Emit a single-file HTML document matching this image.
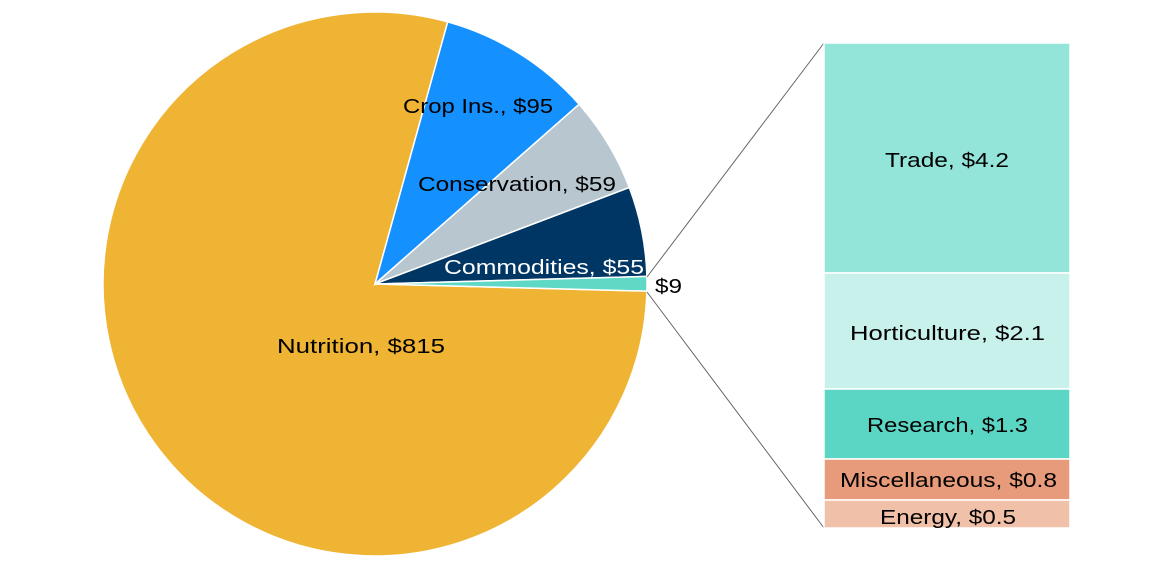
<!DOCTYPE html>
<html><head><meta charset="utf-8"><style>
html,body{margin:0;padding:0;background:#fff;}
svg text{font-family:"Liberation Sans",sans-serif;font-size:20px;fill:#000;}
</style></head><body>
<svg width="1165" height="575" viewBox="0 0 1165 575" xmlns="http://www.w3.org/2000/svg">
<g stroke="#fff" stroke-width="1.5">
<path d="M375,284 L646.9,291.1 A272,272 0 1 1 447.7,21.9 Z" fill="#F0B434"/>
<path d="M375,284 L447.7,21.9 A272,272 0 0 1 579.1,104.3 Z" fill="#1490FF"/>
<path d="M375,284 L579.1,104.3 A272,272 0 0 1 629.3,187.5 Z" fill="#B7C6CF"/>
<path d="M375,284 L629.3,187.5 A272,272 0 0 1 646.9,276.4 Z" fill="#003663"/>
<path d="M375,284 L646.9,276.4 A272,272 0 0 1 646.9,291.1 Z" fill="#5FD9C5"/>
</g>
<line x1="647" y1="277" x2="824" y2="43" stroke="#666" stroke-width="1"/>
<line x1="647" y1="292" x2="824" y2="528" stroke="#666" stroke-width="1"/>
<g stroke="#fff" stroke-width="1.5">
<rect x="824" y="43" width="246" height="230" fill="#93E5DA"/>
<rect x="824" y="273" width="246" height="116" fill="#C9F1EC"/>
<rect x="824" y="389" width="246" height="70" fill="#5CD6C4"/>
<rect x="824" y="459" width="246" height="41" fill="#E79B7A"/>
<rect x="824" y="500" width="246" height="28" fill="#F0C0A8"/>
</g>
<text x="403" y="113" textLength="150" lengthAdjust="spacingAndGlyphs">Crop Ins., $95</text>
<text x="418" y="191" textLength="198" lengthAdjust="spacingAndGlyphs">Conservation, $59</text>
<text x="444" y="274" textLength="200" lengthAdjust="spacingAndGlyphs" style="fill:#fff">Commodities, $55</text>
<text x="655" y="293" textLength="27" lengthAdjust="spacingAndGlyphs">$9</text>
<text x="277" y="353" textLength="168" lengthAdjust="spacingAndGlyphs">Nutrition, $815</text>
<text x="885" y="167" textLength="124" lengthAdjust="spacingAndGlyphs">Trade, $4.2</text>
<text x="850" y="340" textLength="195" lengthAdjust="spacingAndGlyphs">Horticulture, $2.1</text>
<text x="867" y="432" textLength="161" lengthAdjust="spacingAndGlyphs">Research, $1.3</text>
<text x="840" y="487" textLength="217" lengthAdjust="spacingAndGlyphs">Miscellaneous, $0.8</text>
<text x="880" y="524" textLength="136" lengthAdjust="spacingAndGlyphs">Energy, $0.5</text>
</svg>
</body></html>
